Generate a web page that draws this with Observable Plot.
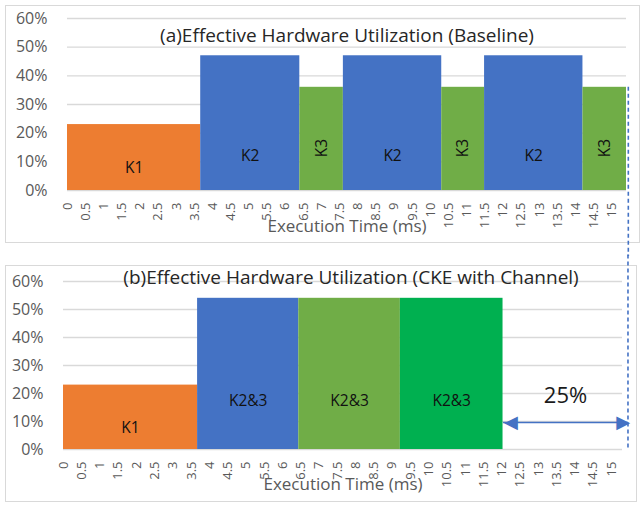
<!DOCTYPE html>
<html>
<head>
<meta charset="utf-8">
<script src="https://cdn.jsdelivr.net/npm/d3@7"></script>
<script src="https://cdn.jsdelivr.net/npm/@observablehq/plot@0.6"></script>
<style>
  html, body { margin: 0; padding: 0; background: #fff; }
  body { width: 644px; height: 510px; position: relative; overflow: hidden; font-family: "Open Sans", sans-serif; }
  .box { position: absolute; border: 1.5px solid #d9d9d9; box-sizing: border-box; }
  .panel { position: absolute; left: 0; }
</style>
</head>
<body>
<div class="box" style="left:5px;top:5px;width:635px;height:238px"></div>
<div class="box" style="left:5px;top:265px;width:632px;height:237px"></div>
<div class="panel" id="a" style="top:0"></div>
<div class="panel" id="b" style="top:255px"></div>
<script>
// ---- tick labels ----
const timeTicks = [0,0.5,1,1.5,2,2.5,3,3.5,4,4.5,5,5.5,6,6.5,7,7.5,8,8.5,9,9.5,10,10.5,11,11.5,12,12.5,13,13.5,14,14.5,15];
const utilTicks = [0,10,20,30,40,50,60];

// ---- (a) baseline ----
const baseKernel = ["K1","K2","K3","K2","K3","K2","K3"];
const baseStart  = [0, 3.67, 6.40, 7.60, 10.31, 11.49, 14.20];
const baseEnd    = [3.67, 6.40, 7.60, 10.31, 11.49, 14.20, 15.40];
const baseUtil   = [23, 47, 36, 47, 36, 47, 36];

// ---- (b) CKE with channel ----
const ckeKernel = ["K1","K2&3","K2&3","K2&3"];
const ckeStart  = [0, 3.67, 6.44, 9.22];
const ckeEnd    = [3.67, 6.44, 9.22, 12.03];
const ckeUtil   = [23, 54, 54, 54];

const baselineEnd = 15.45;   // end of baseline execution (dashed guide)
const savedLabel = ["25%"];

// ---- styles ----
const kernelColor = {"K1": "#ED7D31", "K2": "#4472C4", "K3": "#70AD47"};
const ckeColor = ["#ED7D31", "#4472C4", "#70AD47", "#00B050"];
const labelHeight = {"K1": 7.7, "K2": 11.9, "K3": 14.8, "K2&3": 17.2};
const savedLabelHeight = 19;
const arrowHeight = 9.6;
const blue = "#4472C4";
const grey = "#595959";
const font = "'Open Sans', sans-serif";

const baseRows = baseKernel.map((k, i) => ({kernel: k, start: baseStart[i], end: baseEnd[i], util: baseUtil[i], color: kernelColor[k]}));
const ckeRows = ckeKernel.map((k, i) => ({kernel: k, start: ckeStart[i], end: ckeEnd[i], util: ckeUtil[i], color: ckeColor[i]}));
const arrowRow = [{x1: ckeEnd[ckeEnd.length - 1], x2: baselineEnd, y: arrowHeight}];

function commonMarks(rows, xLabelDy) {
  return [
    Plot.gridY(utilTicks, {stroke: "#d9d9d9", strokeOpacity: 1, strokeWidth: 1.3}),
    Plot.rect(rows, {x1: "start", x2: "end", y1: 0, y2: "util", fill: "color"}),
    Plot.axisY(utilTicks, {tickSize: 0, tickPadding: 20, tickFormat: d => d + "%", fontSize: 16, fill: grey, label: null}),
    Plot.axisX(timeTicks, {tickSize: 0, tickPadding: 12, tickRotate: -90, tickFormat: d => String(d), fontSize: 13, fill: grey, label: null}),
    Plot.text(rows, {
      x: d => (d.start + d.end) / 2,
      y: d => labelHeight[d.kernel],
      text: "kernel",
      rotate: d => d.kernel === "K3" ? -90 : 0,
      fontSize: 15.5, fill: "#111"
    }),
    Plot.text(["Execution Time (ms)"], {frameAnchor: "bottom", dy: xLabelDy, fontSize: 17, fill: grey})
  ];
}

const plotA = Plot.plot({
  width: 644, height: 255,
  marginLeft: 67, marginRight: 18, marginTop: 18, marginBottom: 65,
  style: {background: "none", overflow: "visible", fontFamily: font},
  x: {domain: [0, 15.4], axis: null},
  y: {domain: [0, 60], axis: null},
  color: {type: "identity"},
  marks: [
    ...commonMarks(baseRows, 41),
    Plot.text(["(a)Effective Hardware Utilization (Baseline)"], {frameAnchor: "top", dy: 10, fontSize: 19, fill: "#262626"}),
    Plot.ruleX([baselineEnd], {y1: 36, y2: -23, stroke: blue, strokeWidth: 1.6, strokeDasharray: "4,3"})
  ]
});

const plotB = Plot.plot({
  width: 644, height: 255,
  marginLeft: 63, marginRight: 22, marginTop: 26, marginBottom: 61,
  style: {background: "none", overflow: "visible", fontFamily: font},
  x: {domain: [0, 15.3], axis: null},
  y: {domain: [0, 60], axis: null},
  color: {type: "identity"},
  marks: [
    ...commonMarks(ckeRows, 40),
    Plot.text(["(b)Effective Hardware Utilization (CKE with Channel)"], {frameAnchor: "top", dy: -11, dx: 8, fontSize: 19, fill: "#262626"}),
    Plot.ruleX([baselineEnd], {y1: 0.5, y2: 70, stroke: blue, strokeWidth: 1.6, strokeDasharray: "4,3"}),
    Plot.link(arrowRow, {x1: "x1", x2: "x2", y1: "y", y2: "y", stroke: blue, strokeWidth: 1.5, insetLeft: 8, insetRight: 8}),
    Plot.text(arrowRow, {x: "x1", y: "y", text: d => "◀", textAnchor: "start", dx: 1, fontSize: 18, fill: blue, fontFamily: "DejaVu Sans"}),
    Plot.text(arrowRow, {x: "x2", y: "y", text: d => "▶", textAnchor: "end", dx: 2, fontSize: 18, fill: blue, fontFamily: "DejaVu Sans"}),
    Plot.text(savedLabel, {x: (arrowRow[0].x1 + arrowRow[0].x2) / 2, y: savedLabelHeight, fontSize: 22, fill: "#1a1a1a"})
  ]
});

document.getElementById("a").appendChild(plotA);
document.getElementById("b").appendChild(plotB);
</script>
</body>
</html>
